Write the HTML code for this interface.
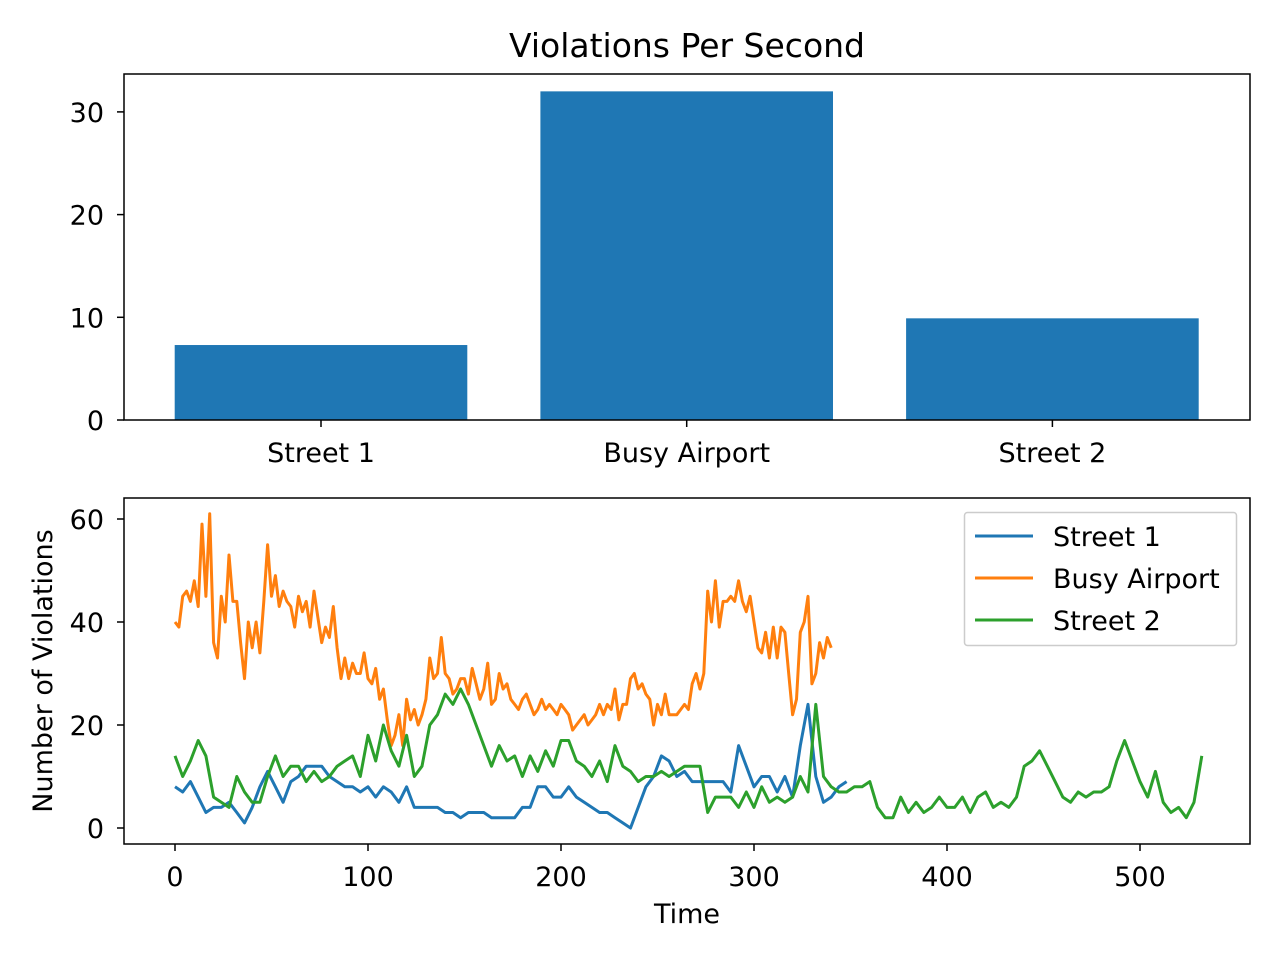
<!DOCTYPE html>
<html><head><meta charset="utf-8"><style>
body{margin:0;background:#fff}
text{font-family:"DejaVu Sans","Liberation Sans",sans-serif;fill:#000}
</style></head><body>
<svg id="c" width="1280" height="960" xmlns="http://www.w3.org/2000/svg"></svg>
<script>
const barCategories=["Street 1","Busy Airport","Street 2"];
const barValues=[7.3,32.0,9.9];
const barTicks=[0,10,20,30];
const lineTicksX=[0,100,200,300,400,500];
const lineTicksY=[0,20,40,60];
const seriesNames=["Street 1","Busy Airport","Street 2"];
const seriesColors=["#1f77b4","#ff7f0e","#2ca02c"];
const street1Step=4;
const street1=[8,7,9,6,3,4,4,5,3,1,4,8,11,8,5,9,10,12,12,12,10,9,8,8,7,8,6,8,7,5,8,4,4,4,4,3,3,2,3,3,3,2,2,2,2,4,4,8,8,6,6,8,6,5,4,3,3,2,1,0,4,8,10,14,13,10,11,9,9,9,9,9,7,16,12,8,10,10,7,10,6,16,24,10,5,6,8,9];
const airportStep=2;
const airport=[40,39,45,46,44,48,43,59,45,61,36,33,45,40,53,44,44,36,29,40,35,40,34,44,55,45,49,43,46,44,43,39,45,42,44,39,46,41,36,39,37,43,35,29,33,29,32,30,30,34,29,28,31,25,27,21,16,18,22,16,25,21,23,20,22,25,33,29,30,37,30,29,26,27,29,29,26,31,28,25,27,32,24,25,30,27,28,25,24,23,25,26,24,22,23,25,23,24,23,22,24,23,22,19,20,21,22,20,21,22,24,22,24,23,27,21,24,24,29,30,27,28,26,25,20,24,22,26,22,22,22,23,24,23,28,30,27,30,46,40,48,39,44,44,45,44,48,44,42,45,40,35,34,38,33,39,33,39,38,30,22,25,38,40,45,28,30,36,33,37,35];
const street2Step=4;
const street2=[14,10,13,17,14,6,5,4,10,7,5,5,10,14,10,12,12,9,11,9,10,12,13,14,10,18,13,20,15,12,18,10,12,20,22,26,24,27,24,20,16,12,16,13,14,10,14,11,15,12,17,17,13,12,10,13,9,16,12,11,9,10,10,11,10,11,12,12,12,3,6,6,6,4,7,4,8,5,6,5,6,10,7,24,10,8,7,7,8,8,9,4,2,2,6,3,5,3,4,6,4,4,6,3,6,7,4,5,4,6,12,13,15,12,9,6,5,7,6,7,7,8,13,17,13,9,6,11,5,3,4,2,5,14];
const svg=document.getElementById('c');const NS="http://www.w3.org/2000/svg";
function mk(t,a,p){const e=document.createElementNS(NS,t);for(const k in a)e.setAttribute(k,a[k]);(p||svg).appendChild(e);return e;}
function txt(s,x,y,anchor,size,p){const e=mk('text',{x:x,y:y,'text-anchor':anchor,'font-size':size},p);e.textContent=s;return e;}
const FS=27;
const T={l:124,r:1250,t:74,b:420};
const yTop=v=>420-v*10.27;
const xBar=i=>321+i*365.7;
txt("Violations Per Second",687,57,"middle",33);
barValues.forEach((v,i)=>{
 const b=mk('rect',{x:xBar(i)-146.3,y:yTop(v),width:292.6,height:420-yTop(v),fill:"#1f77b4"});
 
 
 mk('line',{x1:xBar(i),x2:xBar(i),y1:420,y2:427,stroke:"#000","stroke-width":1.5});
 const t=txt(barCategories[i],xBar(i),462,"middle",FS);
 
});
barTicks.forEach(v=>{mk('line',{x1:117,x2:124,y1:yTop(v),y2:yTop(v),stroke:"#000","stroke-width":1.5});
 const t=txt(String(v),104,yTop(v)+10,"end",FS);});
mk('rect',{x:T.l,y:T.t,width:T.r-T.l,height:T.b-T.t,fill:"none",stroke:"#000","stroke-width":1.5});
const B={l:124,r:1250,t:498,b:844};
const xL=t=>175+t*1.93;
const yL=v=>828-v*5.15;
lineTicksX.forEach(v=>{mk('line',{x1:xL(v),x2:xL(v),y1:844,y2:851,stroke:"#000","stroke-width":1.5});
 const t=txt(String(v),xL(v),886,"middle",FS);});
lineTicksY.forEach(v=>{mk('line',{x1:117,x2:124,y1:yL(v),y2:yL(v),stroke:"#000","stroke-width":1.5});
 const t=txt(String(v),104,yL(v)+10,"end",FS);});
const xt=txt("Time",687,923,"middle",FS);
const yt=txt("Number of Violations",0,0,"middle",FS);yt.setAttribute('transform','translate(52,671) rotate(-90)');
const data=[[street1,street1Step],[airport,airportStep],[street2,street2Step]];
data.forEach((d,k)=>{
 const pts=d[0].map((v,i)=>xL(i*d[1]).toFixed(1)+","+yL(v).toFixed(1)).join(" ");
 const p=mk('polyline',{points:pts,fill:"none",stroke:seriesColors[k],"stroke-width":3,"stroke-linejoin":"round"});
 
 
});
mk('rect',{x:B.l,y:B.t,width:B.r-B.l,height:B.b-B.t,fill:"none",stroke:"#000","stroke-width":1.5});
const lg=mk('g',{});
mk('rect',{x:964.5,y:512.5,width:272,height:133,rx:3,fill:"#fff",stroke:"#ccc","stroke-width":1.5},lg);
seriesNames.forEach((n,k)=>{const y=536+k*42;
 mk('line',{x1:975,x2:1033,y1:y,y2:y,stroke:seriesColors[k],"stroke-width":3},lg);
 const t=txt(n,1053,y+10,"start",FS,lg);});
</script>
</body></html>
